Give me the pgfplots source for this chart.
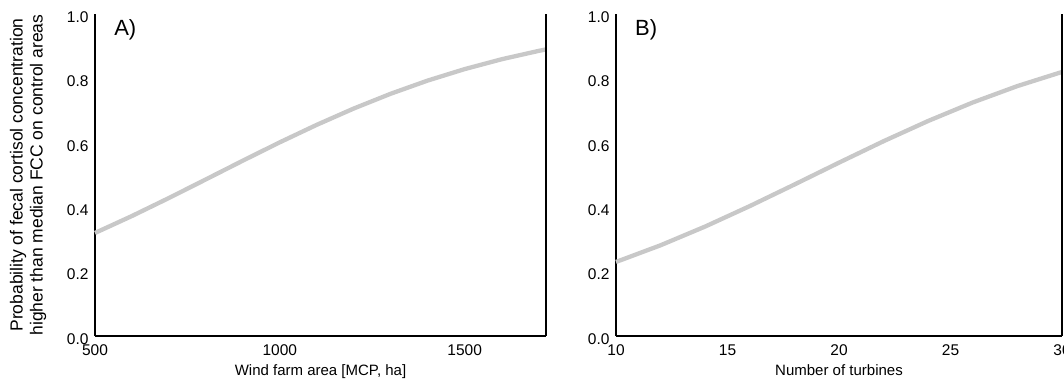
\documentclass[border=0pt]{standalone}
\usepackage{fontspec}
\setmainfont{Liberation Sans}
\usepackage{pgfplots}
\pgfplotsset{compat=1.18}
\definecolor{curve}{RGB}{200,200,200}
\pgfplotsset{
  panel/.style={
    scale only axis,
    width=446pt, height=322pt,
    axis lines*=left,
    axis line style={line width=1.6pt, black},
    ymin=0, ymax=1,
    ytick={0,0.2,0.4,0.6,0.8,1.0},
    major tick length=0pt,
    /pgf/number format/1000 sep={},
    yticklabel style={/pgf/number format/fixed,/pgf/number format/fixed zerofill,/pgf/number format/precision=1, xshift=-3pt, yshift=-3pt},
    xticklabel style={yshift=-5pt},
    /pgf/number format/assume math mode=true,
    tick label style={font=\fontsize{15.5}{17}\selectfont},
    label style={font=\fontsize{15}{17}\selectfont},
    xlabel style={yshift=-2pt},
    clip=false,
  }
}
\begin{document}
\begin{tikzpicture}[x=1pt,y=1pt]
\useasboundingbox (0,0) rectangle (1064,378);
\begin{axis}[panel, at={(95pt,42pt)}, anchor=south west, width=451pt,
  xmin=500, xmax=1720, xtick={500,1000,1500},
  xlabel={Wind farm area [MCP, ha]},
  ylabel={Probability of fecal cortisol concentration\\higher than median FCC on control areas},
  ylabel style={align=center, at={(axis description cs:-0.1486,0.5)}, anchor=center, rotate=0, font=\fontsize{17.5}{20}\selectfont},
]
\addplot[curve, line width=4.3pt] coordinates {
(500,0.320) (600,0.3727) (700,0.4286) (800,0.4864) (900,0.5446) (1000,0.6016)
(1100,0.6559) (1200,0.7065) (1300,0.7524) (1400,0.7933) (1500,0.8289)
(1600,0.8595) (1700,0.8854) (1720,0.8900)};
\draw[line width=1.6pt] (rel axis cs:1,0) -- (rel axis cs:1,1);
\node[anchor=north west, font=\fontsize{22}{26}\selectfont] at (rel axis cs:0.035,0.995) {A)};
\end{axis}
\begin{axis}[panel, at={(616pt,42pt)}, anchor=south west, width=446pt,
  xmin=10, xmax=30, xtick={10,15,20,25,30},
  xlabel={Number of turbines},
]
\addplot[curve, line width=4.3pt] coordinates {
(10,0.230) (12,0.2818) (14,0.340) (16,0.4035) (18,0.4704) (20,0.5384)
(22,0.605) (24,0.6679) (26,0.7253) (28,0.7762) (30,0.820)};
\draw[line width=1.6pt] (rel axis cs:1,0) -- (rel axis cs:1,1);
\node[anchor=north west, font=\fontsize{22}{26}\selectfont] at (rel axis cs:0.035,0.995) {B)};
\end{axis}
\end{tikzpicture}
\end{document}
